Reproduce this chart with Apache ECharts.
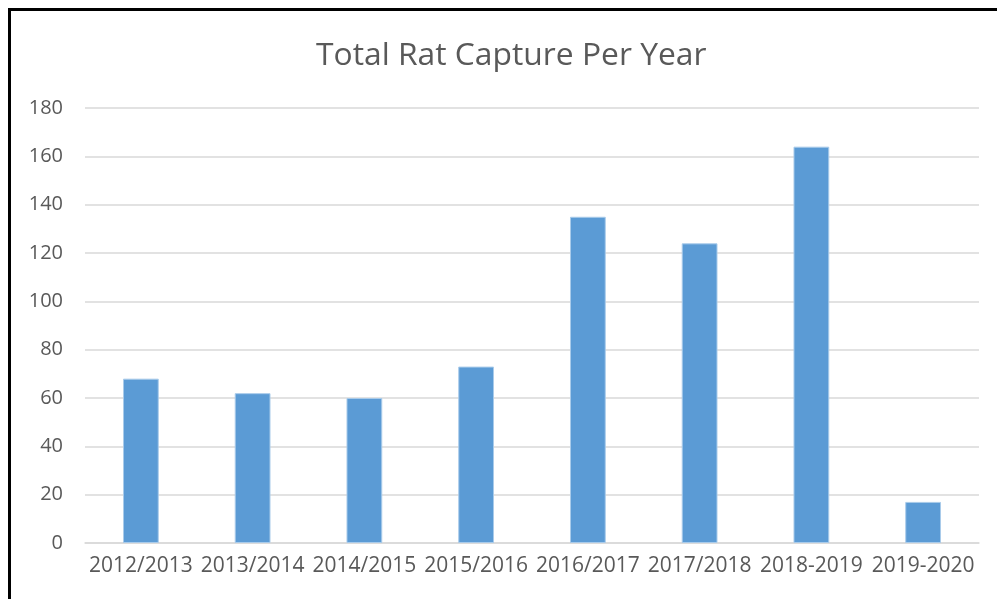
<!DOCTYPE html>
<html>
<head>
<meta charset="utf-8">
<script src="https://cdn.jsdelivr.net/npm/echarts@6/dist/echarts.min.js"></script>
<style>
html,body{margin:0;padding:0;background:#fff;}
#chart{width:997px;height:599px;}
</style>
</head>
<body>
<div id="chart"></div>
<script>
const categories = ['2012/2013','2013/2014','2014/2015','2015/2016','2016/2017','2017/2018','2018-2019','2019-2020'];
const captures = [68, 62, 60, 73, 135, 124, 164, 17];
const titleText = 'Total Rat Capture Per Year';

const chart = echarts.init(document.getElementById('chart'), null, {renderer:'canvas'});
chart.setOption({
  animation:false,
  backgroundColor:'#ffffff',
  title:{
    text:titleText,
    left:311,
    top:35,
    textStyle:{fontFamily:'Open Sans',fontSize:31.8,fontWeight:'normal',color:'#595959'}
  },
  graphic:[{
    type:'rect',
    shape:{x:9.5,y:9.5,width:1000,height:620},
    style:{fill:'none',stroke:'#000',lineWidth:3},
    silent:true,z:100
  }],
  grid:{left:85,right:18,top:108,bottom:56},
  xAxis:{
    type:'category',
    data:categories,
    axisLine:{show:true,lineStyle:{color:'#D9D9D9',width:1.5}},
    axisTick:{show:false},
    axisLabel:{fontFamily:'Open Sans',fontSize:21,color:'#595959',margin:13,interval:0}
  },
  yAxis:{
    type:'value',
    min:0,max:180,interval:20,
    axisLine:{show:false},
    axisTick:{show:false},
    splitLine:{lineStyle:{color:'#D9D9D9',width:1.5}},
    axisLabel:{fontFamily:'Open Sans',fontSize:20,color:'#595959',margin:22}
  },
  series:[{
    type:'bar',
    data:captures,
    barWidth:'32%',
    itemStyle:{color:'#5B9BD5',borderColor:'#A9CBEA',borderWidth:1}
  }]
});
</script>
</body>
</html>
